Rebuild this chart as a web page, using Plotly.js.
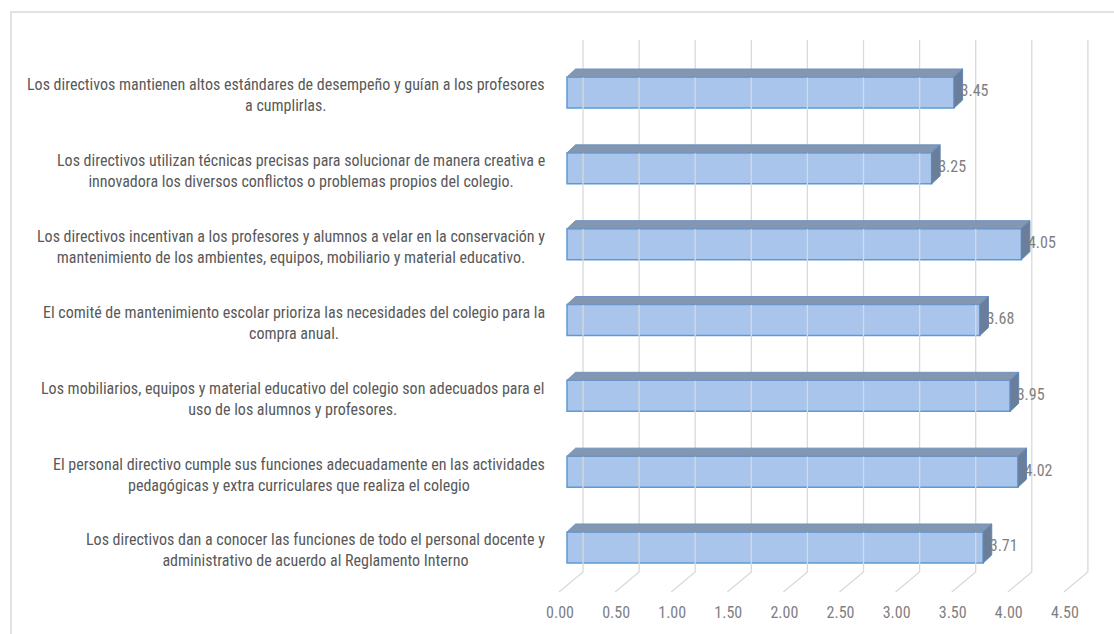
<!DOCTYPE html>
<html>
<head>
<meta charset="utf-8">
<script src="https://cdn.plot.ly/plotly-3.0.1.min.js"></script>
<style>
html, body { margin: 0; padding: 0; background: #ffffff; }
#chart { width: 1114px; height: 634px; }
</style>
</head>
<body>
<div id="chart"></div>
<script>
// ---- Data ----
const categories = [
  "Los directivos mantienen altos estándares de desempeño y guían a los profesores<br>a cumplirlas.",
  "Los directivos utilizan técnicas precisas para solucionar de manera creativa e<br>innovadora los diversos conflictos o problemas propios del colegio.",
  "Los directivos incentivan a los profesores y alumnos a velar en la conservación y<br>mantenimiento de los ambientes, equipos, mobiliario y material educativo.",
  "El comité de mantenimiento escolar prioriza las necesidades del colegio para la<br>compra anual.",
  "Los mobiliarios, equipos y material educativo del colegio son adecuados para el<br>uso de los alumnos y profesores.",
  "El personal directivo cumple sus funciones adecuadamente en las actividades<br>pedagógicas y extra curriculares que realiza el colegio",
  "Los directivos dan a conocer las funciones de todo el personal docente y<br>administrativo de acuerdo al Reglamento Interno"
];
const values = [3.45, 3.25, 4.05, 3.68, 3.95, 4.02, 3.71];
const tickValues = [0, 0.5, 1, 1.5, 2, 2.5, 3, 3.5, 4, 4.5];
const tickLabels = ["0.00", "0.50", "1.00", "1.50", "2.00", "2.50", "3.00", "3.50", "4.00", "4.50"];

// ---- Geometry (pixel scale helpers) ----
const W = 1114, H = 634;
const PXX = 112.2, PXY = 75.83;      // pixels per data unit
const X0 = 567, Y0 = 92.5;           // pixel of x=0, y index 0
const xRange = [-0.3, 4.8];
const yRange = [7, -1];
const xDomain = [(X0 + xRange[0] * PXX) / W, (X0 + xRange[1] * PXX) / W];
const yDomain = [1 - (Y0 + yRange[0] * PXY) / H, 1 - (Y0 + yRange[1] * PXY) / H];
const dx = (px) => px / PXX;
const dy = (py) => py / PXY;
const yAt = (py) => (py - Y0) / PXY;

const idx = values.map((_, i) => i);
const barW = dy(31);
const half = barW / 2;
const depthX = dx(8.5), depthY = dy(8);

const traces = [];

// Gridlines (back wall + floor diagonals)
const gx = [], gy = [];
const backOff = dx(16), frontOff = dx(-8);
const yTop = yAt(40), yBackBot = yAt(572), yFrontBot = yAt(592);
tickValues.forEach(v => {
  gx.push(v + backOff, v + backOff, v + frontOff, null);
  gy.push(yTop, yBackBot, yFrontBot, null);
});
traces.push({
  type: 'scatter', mode: 'lines', x: gx, y: gy,
  line: { color: '#d9d9d9', width: 1.3 }, hoverinfo: 'skip', showlegend: false
});

// Front faces (bars)
traces.push({
  type: 'bar', orientation: 'h', x: values, y: idx, width: barW,
  marker: { color: '#a9c5ec', line: { color: '#5b9bd5', width: 1.5 } },
  hoverinfo: 'x', showlegend: false
});

// Top and side faces
values.forEach((v, i) => {
  const t = i - half, b = i + half;
  traces.push({
    type: 'scatter', mode: 'lines', fill: 'toself',
    x: [0, v, v + depthX, depthX, 0],
    y: [t, t, t - depthY, t - depthY, t],
    fillcolor: '#8497b0', line: { color: '#6f93c4', width: 1 },
    hoverinfo: 'skip', showlegend: false
  });
  traces.push({
    type: 'scatter', mode: 'lines', fill: 'toself',
    x: [v, v + depthX, v + depthX, v, v],
    y: [t, t - depthY, b - depthY, b, t],
    fillcolor: '#6a7e99', line: { color: '#5f86bb', width: 1 },
    hoverinfo: 'skip', showlegend: false
  });
});

const FONT = "'Liberation Sans Narrow', 'Arial Narrow', 'Roboto Condensed', 'DejaVu Sans Condensed', sans-serif";

// Data labels
traces.push({
  type: 'scatter', mode: 'text',
  x: values.map(v => v + depthX - dx(2)), y: idx,
  text: values.map(v => v.toFixed(2)), textposition: 'middle right',
  textfont: { family: FONT, size: 16, color: '#7f7f7f' },
  hoverinfo: 'skip', showlegend: false
});

// Axis tick labels (front edge of floor)
traces.push({
  type: 'scatter', mode: 'text',
  x: tickValues.map(v => v + dx(-7)), y: tickValues.map(() => yAt(614)),
  text: tickLabels, textposition: 'middle center',
  textfont: { family: FONT, size: 16, color: '#7f7f7f' },
  hoverinfo: 'skip', showlegend: false
});

// Category labels
const annotations = categories.map((c, i) => ({
  xref: 'paper', yref: 'y', x: 547 / W, y: i + dy(3),
  xanchor: 'right', yanchor: 'middle', align: 'center',
  text: c, showarrow: false,
  font: { family: FONT, size: 16, color: '#595959' }
}));

const layout = {
  width: W, height: H,
  margin: { l: 0, r: 0, t: 0, b: 0, pad: 0 },
  paper_bgcolor: '#ffffff', plot_bgcolor: 'rgba(0,0,0,0)',
  showlegend: false,
  xaxis: { domain: xDomain, range: xRange, visible: false, fixedrange: true },
  yaxis: { domain: yDomain, range: yRange, visible: false, fixedrange: true },
  annotations: annotations,
  shapes: [{
    type: 'rect', xref: 'paper', yref: 'paper',
    x0: 11 / W, x1: 1.2, y0: -0.2, y1: 1 - 12 / H,
    line: { color: '#d9d9d9', width: 1.5 }, fillcolor: 'rgba(0,0,0,0)', layer: 'below'
  }]
};

Plotly.newPlot('chart', traces, layout, { displayModeBar: false, staticPlot: true });
</script>
</body>
</html>
